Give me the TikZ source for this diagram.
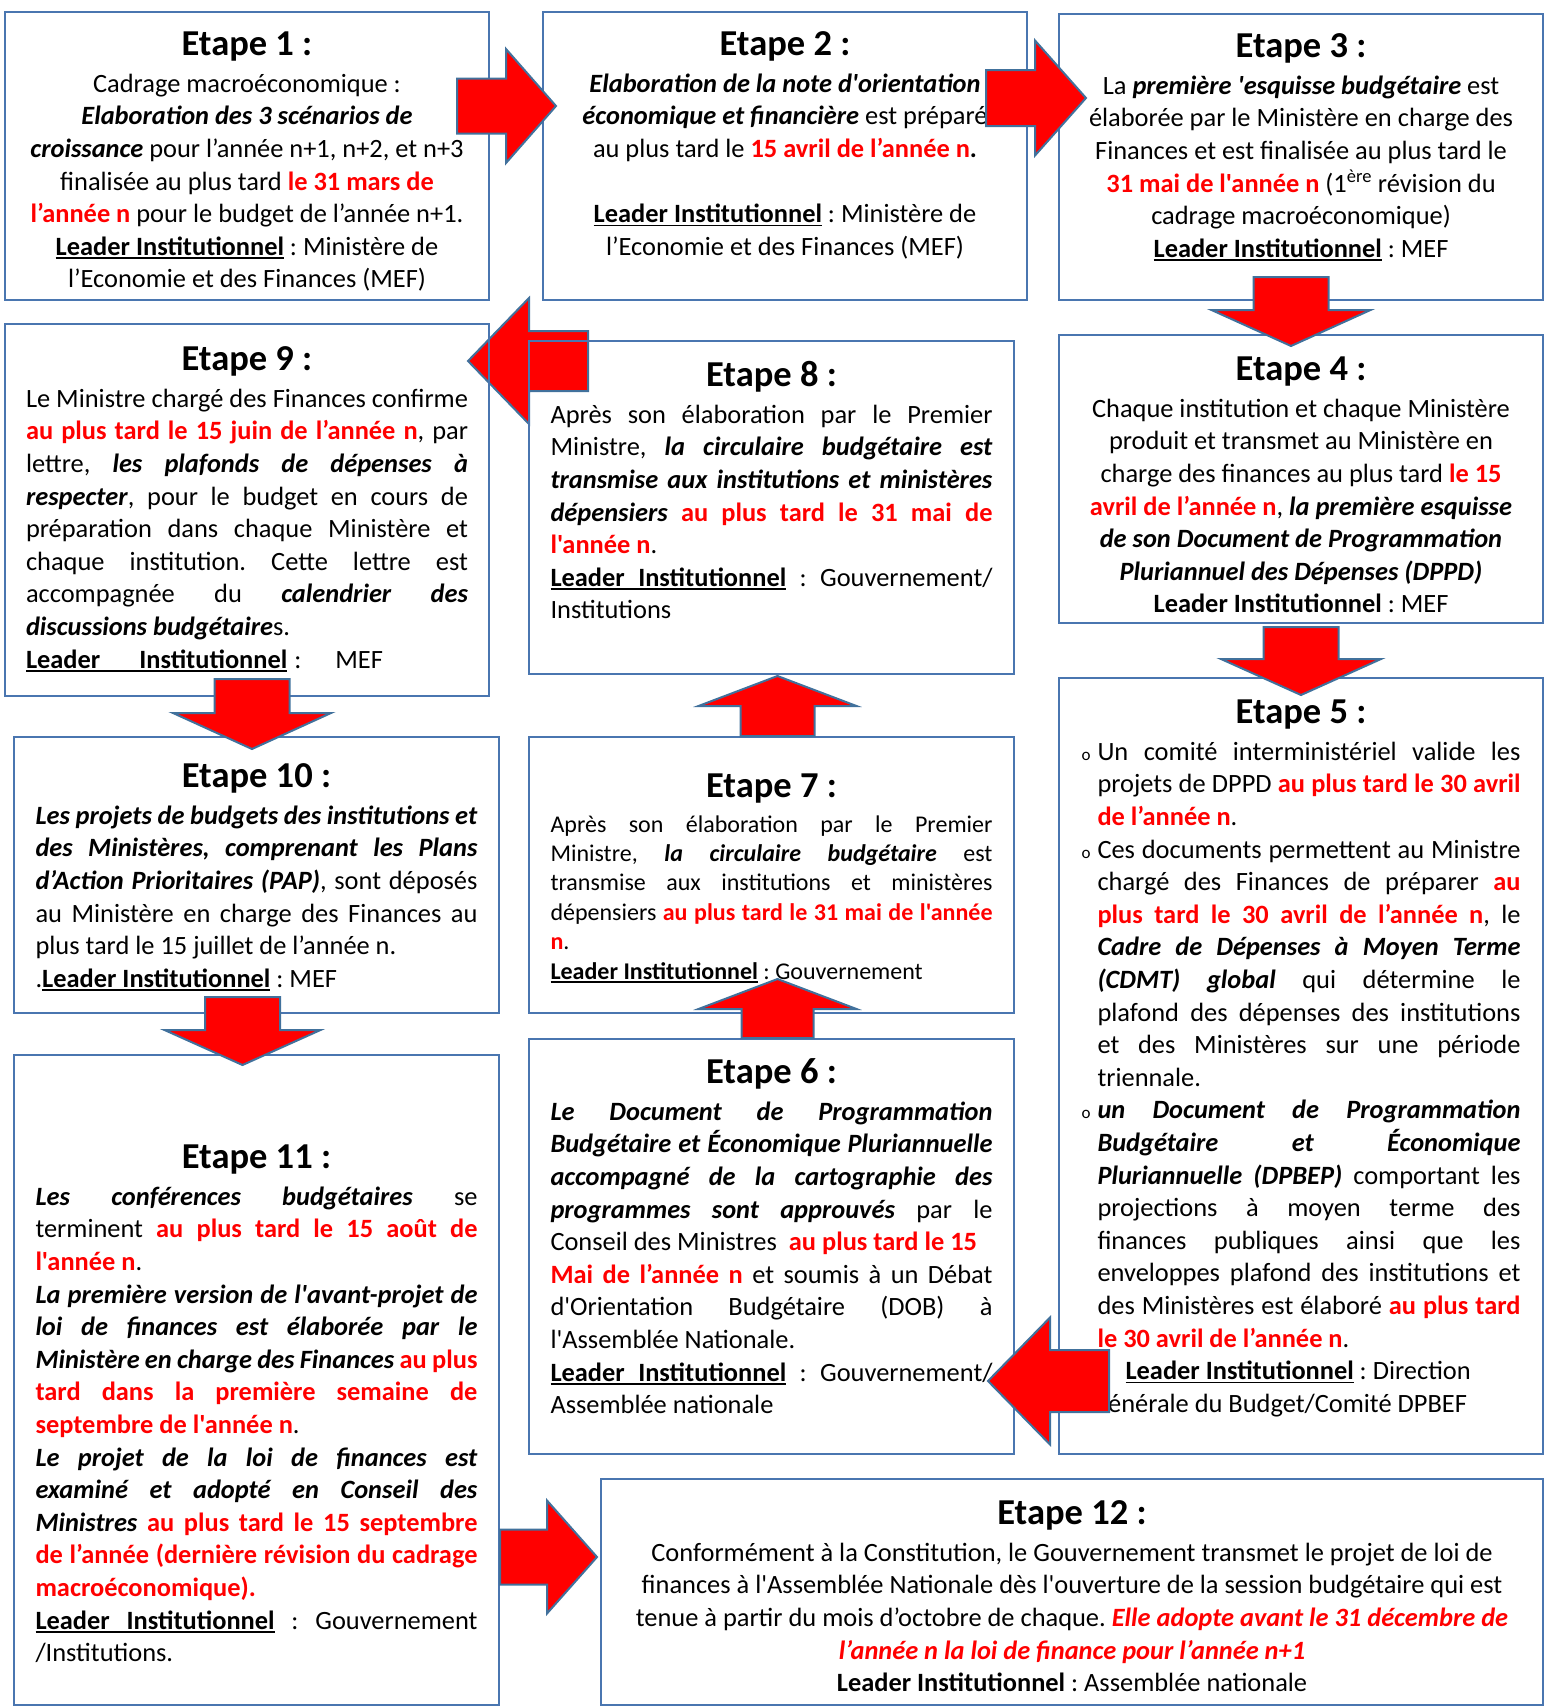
\documentclass[tikz,border=0pt]{standalone}
\usepackage{fontspec}
\setmainfont{Carlito}[Ligatures=TeXOff]
\usepackage{xcolor}
\usetikzlibrary{positioning,calc,backgrounds}
\definecolor{boxblue}{RGB}{74,118,176}
\definecolor{arrowblue}{RGB}{65,113,156}
\definecolor{alertred}{RGB}{255,0,0}

\newcommand{\bodytxt}{\fontsize{26.4}{32.6}\selectfont\parindent=0pt\frenchspacing}
\newcommand{\smalltxt}{\fontsize{24}{29.4}\selectfont\parindent=0pt\frenchspacing}
\newcommand{\etape}[1]{\spaceskip=0pt\xspaceskip=0pt
    {\centering\fontsize{36.5}{36.5}\selectfont\bfseries\rule{0pt}{28pt}Etape #1 :\par}\vspace{4.4pt}}
\newcommand{\bfit}[1]{\textbf{\textit{#1}}}
\newcommand{\redbf}[1]{\textcolor{alertred}{\textbf{#1}}}
\newcommand{\redbfit}[1]{\textcolor{alertred}{\bfit{#1}}}
% underlined words, with a stretchable underlined space
\newcommand{\ulbox}[1]{\setbox0=\hbox{#1}\rlap{\vrule height -2.2pt depth 3.5pt width \wd0}\box0}
\newcommand{\ulspace}{\leaders\vrule height -2.2pt depth 3.5pt\hskip\fontdimen2\font plus\fontdimen3\font minus\fontdimen4\font}
\newcommand{\leader}{\textbf{\ulbox{Leader}\ulspace\ulbox{Institutionnel}}}
% justified lines
\newcommand{\fullline}[1]{\makebox[\hsize][s]{#1}\par}
\newcommand{\bulmark}{{\fontsize{17}{17}\selectfont o}}
\newcommand{\bulline}[1]{\makebox[16pt][l]{\bulmark}\makebox[\dimexpr\hsize-16pt\relax][s]{#1}\par}
\newcommand{\hangline}[1]{\hspace*{16pt}\makebox[\dimexpr\hsize-16pt\relax][s]{#1}\par}
\newcommand{\hanglast}[1]{\hspace*{16pt}#1\par}
% block arrow: tail, tip, half shaft, half head, head length
\newcommand{\blockarrow}[5]{%
    \draw[bigarrow] let \p1=#1, \p2=#2,
        \n1={veclen(\x2-\x1,\y2-\y1)},
        \n2={(\x2-\x1)/\n1}, \n3={(\y2-\y1)/\n1}, \n4={\n1-#5}
    in ({\x1-(\n3)*#3},{\y1+(\n2)*#3})
    -- ({\x1+(\n2)*\n4-(\n3)*#3},{\y1+(\n3)*\n4+(\n2)*#3})
    -- ({\x1+(\n2)*\n4-(\n3)*#4},{\y1+(\n3)*\n4+(\n2)*#4})
    -- (\p2)
    -- ({\x1+(\n2)*\n4+(\n3)*#4},{\y1+(\n3)*\n4-(\n2)*#4})
    -- ({\x1+(\n2)*\n4+(\n3)*#3},{\y1+(\n3)*\n4-(\n2)*#3})
    -- ({\x1+(\n3)*#3},{\y1-(\n2)*#3}) -- cycle;}

\tikzset{
    etapebox/.style={draw=boxblue, line width=2pt, anchor=north west, inner sep=0pt},
    centertxt/.style={text width=#1, inner sep=0pt, font=\bodytxt, execute at begin node=\centering},
    justtxt/.style={text width=#1, inner sep=0pt, font=\bodytxt},
    bigarrow/.style={fill=alertred, draw=arrowblue, line width=2pt, line join=miter}
}

\begin{document}
\begin{tikzpicture}[x=1pt,y=-1pt]
    \useasboundingbox (0,0) rectangle (1543,1708);

    % Boxes
    \node[etapebox, minimum width=484pt, minimum height=288pt] (b1) at (4,11) {};
    \node[etapebox, minimum width=484pt, minimum height=288pt] (b2) at (542,11) {};
    \node[etapebox, minimum width=484pt, minimum height=286pt] (b3) at (1058,13) {};
    \node[etapebox, minimum width=484pt, minimum height=372pt] (b9) at (4,323) {};
    \node[etapebox, minimum width=485pt, minimum height=333pt] (b8) at (528,340) {};
    \node[etapebox, minimum width=484pt, minimum height=288pt] (b4) at (1058,334) {};
    \node[etapebox, minimum width=485pt, minimum height=276pt] (b10) at (13,736) {};
    \node[etapebox, minimum width=485pt, minimum height=276pt] (b7) at (528,736) {};
    \node[etapebox, minimum width=484pt, minimum height=776pt] (b5) at (1058,677) {};
    \node[etapebox, minimum width=485pt, minimum height=650pt] (b11) at (13,1054) {};
    \node[etapebox, minimum width=485pt, minimum height=415pt] (b6) at (528,1038) {};
    \node[etapebox, minimum width=942pt, minimum height=226pt] (b12) at (600,1478) {};

    % Arrow behind step 8
    \begin{pgfonlayer}{background}
        \blockarrow{($(b8.north west)+(60,21)$)}{($(b9.north east)+(-22,38)$)}{30}{63}{61}
    \end{pgfonlayer}

    % Step texts
    \node[centertxt=470pt, below=16pt of b1.north] (t1) {\etape{1}
        Cadrage macroéconomique :\\
        \bfit{Elaboration des 3 scénarios de}\\
        \bfit{croissance} pour l’année n+1, n+2, et n+3\\
        finalisée au plus tard \redbf{le 31 mars de}\\
        \redbf{l’année n} pour le budget de l’année n+1.\\
        \leader{} : Ministère de\\
        l’Economie et des Finances (MEF)};

    \node[centertxt=470pt, below=16pt of b2.north] (t2) {\etape{2}
        \bfit{Elaboration de la note d'orientation}\\
        \bfit{économique et financière} est préparé\\
        au plus tard le \redbf{15 avril de l’année n}\textbf{.}\\
        \mbox{}\\
        \leader{} : Ministère de\\
        l’Economie et des Finances (MEF)};

    \node[centertxt=470pt, below=16pt of b3.north] (t3) {\etape{3}
        La \bfit{première 'esquisse budgétaire} est\\
        élaborée par le Ministère en charge des\\
        Finances et est finalisée au plus tard le\\
        \redbf{31 mai de l'année n} (1\textsuperscript{ère} révision du\\
        cadrage macroéconomique)\\
        \leader{} : MEF};

    \node[justtxt=442pt, below=19pt of b9.north] (t9) {\etape{9}
        \fullline{Le Ministre chargé des Finances confirme}
        \fullline{\redbf{au plus tard le 15 juin de l’année n}, par}
        \fullline{lettre, \bfit{les plafonds de dépenses à}}
        \fullline{\bfit{respecter}, pour le budget en cours de}
        \fullline{préparation dans chaque Ministère et}
        \fullline{chaque institution. Cette lettre est}
        \fullline{accompagnée du \bfit{calendrier des}}
        \bfit{discussions budgétaire}s.\par
        \textbf{\ulbox{Leader\hspace{39pt}Institutionnel}}\hspace{7pt}:\hspace{34pt}MEF\par};

    \node[justtxt=442pt, below=18pt of b8.north] (t8) {\etape{8}
        \fullline{Après son élaboration par le Premier}
        \fullline{Ministre, \bfit{la circulaire budgétaire est}}
        \fullline{\bfit{transmise aux institutions et ministères}}
        \fullline{\bfit{dépensiers} \redbf{au plus tard le 31 mai de}}
        \redbf{l'année n}.\par
        \fullline{\leader{} : Gouvernement/}
        Institutions\par};

    \node[centertxt=470pt, below=18pt of b4.north] (t4) {\etape{4}
        Chaque institution et chaque Ministère\\
        produit et transmet au Ministère en\\
        charge des finances au plus tard \redbf{le 15}\\
        \redbf{avril de l’année n}, \bfit{la première esquisse}\\
        \bfit{de son Document de Programmation}\\
        \bfit{Pluriannuel des Dépenses (DPPD)}\\
        \textbf{Leader Institutionnel} : MEF};

    \node[justtxt=442pt, below=23pt of b10.north] (t10) {\etape{10}
        \fullline{\bfit{Les projets de budgets des institutions et}}
        \fullline{\bfit{des Ministères, comprenant les Plans}}
        \fullline{\bfit{d’Action Prioritaires (PAP)}, sont déposés}
        \fullline{au Ministère en charge des Finances au}
        plus tard le 15 juillet de l’année n.\par
        .\leader{} : MEF\par};

    \node[justtxt=442pt, font=\smalltxt, below=33pt of b7.north] (t7) {\etape{7}\vspace{1pt}
        \fullline{Après son élaboration par le Premier}
        \fullline{Ministre, \bfit{la circulaire budgétaire} est}
        \fullline{transmise aux institutions et ministères}
        \fullline{dépensiers \redbf{au plus tard le 31 mai de l'année}}
        \redbf{n}.\par
        \leader{} : Gouvernement\par};

    \node[justtxt=439pt, below=18pt of b5.north] (t5) {\etape{5}
        \bulline{Un comité interministériel valide les}
        \hangline{projets de DPPD \redbf{au plus tard le 30 avril}}
        \hanglast{\redbf{de l’année n}.}
        \bulline{Ces documents permettent au Ministre}
        \hangline{chargé des Finances de préparer \redbf{au}}
        \hangline{\redbf{plus tard le 30 avril de l’année n}, le}
        \hangline{\bfit{Cadre de Dépenses à Moyen Terme}}
        \hangline{\bfit{(CDMT) global} qui détermine le}
        \hangline{plafond des dépenses des institutions}
        \hangline{et des Ministères sur une période}
        \hanglast{triennale.}
        \bulline{\bfit{un Document de Programmation}}
        \hangline{\bfit{Budgétaire et Économique}}
        \hangline{\bfit{Pluriannuelle (DPBEP)} comportant les}
        \hangline{projections à moyen terme des}
        \hangline{finances publiques ainsi que les}
        \hangline{enveloppes plafond des institutions et}
        \hangline{des Ministères est élaboré \redbf{au plus tard}}
        \hanglast{\redbf{le 30 avril de l’année n}.}
        \hspace*{44pt}\leader{} : Direction\par
        \hspace*{10pt}Générale du Budget/Comité DPBEF\par};

    \node[justtxt=442pt, below=17pt of b6.north] (t6) {\etape{6}
        \fullline{\bfit{Le Document de Programmation}}
        \fullline{\bfit{Budgétaire et Économique Pluriannuelle}}
        \fullline{\bfit{accompagné de la cartographie des}}
        \fullline{\bfit{programmes sont approuvés} par le}
        Conseil des Ministres\ \ \redbf{au plus tard le 15}\par
        \fullline{\redbf{Mai de l’année n} et soumis à un Débat}
        \fullline{d'Orientation Budgétaire (DOB) à}
        l'Assemblée Nationale.\par
        \fullline{\leader{} : Gouvernement/}
        Assemblée nationale\par};

    \node[justtxt=442pt, below=86pt of b11.north] (t11) {\etape{11}
        \fullline{\bfit{Les conférences budgétaires} se}
        \fullline{terminent \redbf{au plus tard le 15 août de}}
        \redbf{l'année n}.\par
        \fullline{\bfit{La première version de l'avant-projet de}}
        \fullline{\bfit{loi de finances est élaborée par le}}
        \fullline{\bfit{Ministère en charge des Finances} \redbf{au plus}}
        \fullline{\redbf{tard dans la première semaine de}}
        \redbf{septembre de l'année n}.\par
        \fullline{\bfit{Le projet de la loi de finances est}}
        \fullline{\bfit{examiné et adopté en Conseil des}}
        \fullline{\bfit{Ministres} \redbf{au plus tard le 15 septembre}}
        \fullline{\redbf{de l’année (dernière révision du cadrage}}
        \redbf{macroéconomique).}\par
        \fullline{\leader{} : Gouvernement}
        /Institutions.\par};

    \node[centertxt=920pt, below=18pt of b12.north] (t12) {\etape{12}
        Conformément à la Constitution, le Gouvernement transmet le projet de loi de\\
        finances à l'Assemblée Nationale dès l'ouverture de la session budgétaire qui est\\
        tenue à partir du mois d’octobre de chaque. \redbfit{Elle adopte avant le 31 décembre de}\\
        \redbfit{l’année n la loi de finance pour l’année n+1}\\
        \textbf{Leader Institutionnel} : Assemblée nationale};

    % Block arrows between the steps
    \blockarrow{($(b1.north east)+(-33,95)$)}{($(b2.north west)+(14,95)$)}{27.5}{57}{50}
    \blockarrow{($(b2.north east)+(-42,87)$)}{($(b3.north west)+(28,85)$)}{28}{57.5}{51}
    \blockarrow{($(b3.south)+(-10,-24)$)}{($(b4.north)+(-10,12)$)}{37.5}{79.5}{36}
    \blockarrow{($(b4.south)+(0,3)$)}{($(b5.north)+(0,18)$)}{37.5}{80}{36}
    \blockarrow{($(b5.south west)+(51,-74)$)}{($(b6.south east)+(-27,-74)$)}{31}{63.5}{62}
    \blockarrow{($(b6.north)+(6,0)$)}{($(b7.south)+(6,-35)$)}{36}{79}{30}
    \blockarrow{($(b7.north)+(6,0)$)}{($(b8.south)+(6,1)$)}{37}{79}{30}
    \blockarrow{($(b9.south)+(5,-18)$)}{($(b10.north)+(-4.5,13)$)}{37.5}{79}{36}
    \blockarrow{($(b10.south)+(-14,-17)$)}{($(b11.north)+(-14,11)$)}{37.5}{78}{35}
    \blockarrow{($(b11.south east)+(0,-149)$)}{($(b12.south west)+(-3,-149)$)}{27.5}{56.5}{50}
\end{tikzpicture}
\end{document}
